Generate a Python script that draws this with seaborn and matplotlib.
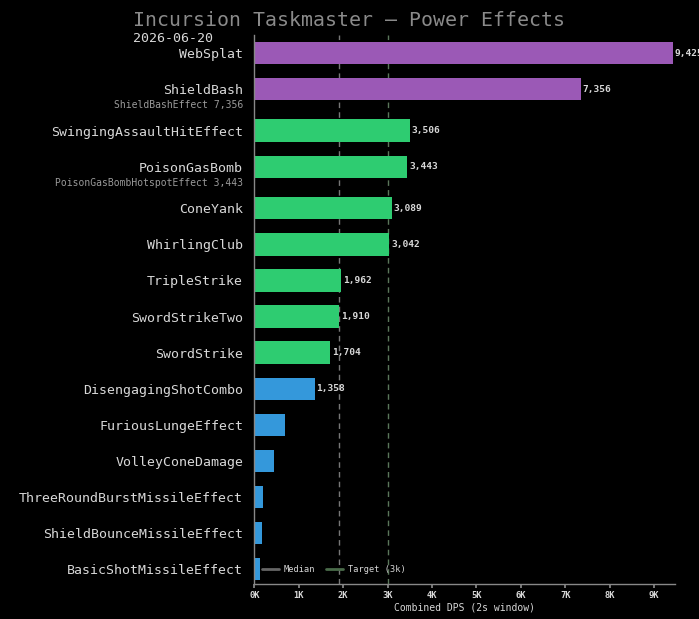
import numpy as np
import pandas as pd
import matplotlib
matplotlib.use("Agg")
import matplotlib.pyplot as plt
import seaborn as sns
from matplotlib.lines import Line2D

# --- Datos ---
powers = ["WebSplat", "ShieldBash", "SwingingAssaultHitEffect", "PoisonGasBomb",
          "ConeYank", "WhirlingClub", "TripleStrike", "SwordStrikeTwo", "SwordStrike",
          "DisengagingShotCombo", "FuriousLungeEffect", "VolleyConeDamage",
          "ThreeRoundBurstMissileEffect", "ShieldBounceMissileEffect",
          "BasicShotMissileEffect"]
dps = [9425, 7356, 3506, 3443, 3089, 3042, 1962, 1910, 1704, 1358, 690, 443, 196, 173, 128]
sub_effects = ["", "ShieldBashEffect", "", "PoisonGasBombHotspotEffect",
               "", "", "", "", "", "", "", "", "", "", ""]
sub_dps = [0, 7356, 0, 3443, 0, 0, 0, 0, 0, 0, 0, 0, 0, 0, 0]
target = 3000
title = "Incursion Taskmaster — Power Effects"
date_txt = "2026-06-20"

# --- Estilo ---
sns.set_theme(style="dark")
plt.rcParams["font.family"] = ["DejaVu Sans Mono", "DejaVu Sans"]
BG = "#000000"
TXT = "#d8d8d8"
AX = "#888888"
tier_colors = {"high": "#9b59b6", "mid": "#2ecc71", "low": "#3498db"}


def tier(v):
    if v >= 5000:
        return "high"
    if v >= 1500:
        return "mid"
    return "low"


# posiciones: filas con sub-efecto dejan un poco más de espacio
ypos = []
y = 0.0
for i in range(len(powers)):
    ypos.append(y)
    y += 1.15 if sub_effects[i] else 1.0

df = pd.DataFrame({"power": powers, "dps": dps, "y": ypos,
                   "tier": [tier(v) for v in dps]})

fig = plt.figure(figsize=(6.99, 6.19), dpi=100, facecolor=BG)
ax = fig.add_axes([0.3638, 0.0565, 0.9657 - 0.3638, 0.9435 - 0.0565])
ax.set_facecolor(BG)

sns.barplot(data=df, x="dps", y="y", hue="tier", palette=tier_colors,
            orient="h", native_scale=True, dodge=False, width=0.62,
            legend=False, saturation=1, linewidth=0, edgecolor="none", ax=ax)

xmax = max(dps) * 1.005
ax.set_xlim(0, xmax)
ax.set_ylim(ypos[-1] + 0.41, -0.5)

med = float(np.median(dps))
ax.axvline(med, color="#777777", ls=(0, (4, 3)), lw=1, zorder=0)
ax.axvline(target, color="#5b765b", ls=(0, (4, 3)), lw=1, zorder=0)

# etiquetas de valor
for yy, v in zip(ypos, dps):
    if v >= 1000:
        ax.text(v + 40, yy, f"{v:,}", color=TXT, fontsize=6.8, fontweight="bold",
                va="center", ha="left", clip_on=False)

# sub-etiquetas bajo el nombre
for yy, name, v in zip(ypos, sub_effects, sub_dps):
    if name:
        ax.text(-0.026, yy + 0.45, f"{name} {v:,}", color="#9a9a9a", fontsize=7,
                va="center", ha="right", transform=ax.get_yaxis_transform())

ax.set_yticks(ypos)
ax.set_yticklabels(powers, fontsize=9.5, color=TXT)
ax.tick_params(axis="y", length=0, pad=8)

ticks = np.arange(0, 10000, 1000)
ax.set_xticks(ticks)
ax.set_xticklabels([f"{t // 1000}K" for t in ticks], fontsize=6.3,
                   color=TXT, fontweight="bold")
ax.tick_params(axis="x", length=3, color=AX, pad=2, bottom=True)
ax.set_xlabel("Combined DPS (2s window)", fontsize=7, color=TXT, labelpad=2)
ax.set_ylabel("")

for s in ["top", "right"]:
    ax.spines[s].set_visible(False)
for s in ["left", "bottom"]:
    ax.spines[s].set_color(AX)
    ax.spines[s].set_linewidth(1)

handles = [Line2D([0], [0], color="#666666", lw=2),
           Line2D([0], [0], color="#4a6b4a", lw=2)]
leg = ax.legend(handles, ["Median", "Target (3k)"], loc="lower left", ncol=2,
                frameon=False, fontsize=6.2, handlelength=2, handletextpad=0.5,
                columnspacing=1.3, bbox_to_anchor=(0.0, 0.005))
for t in leg.get_texts():
    t.set_color(TXT)

fig.text(0.499, 0.967, title, ha="center", va="center", fontsize=14.3,
         color="#8a8a8a")
fig.text(0.19, 0.938, date_txt, ha="left", va="center", fontsize=9.5, color=TXT)

fig.savefig("out.png", dpi=100, facecolor=BG)
